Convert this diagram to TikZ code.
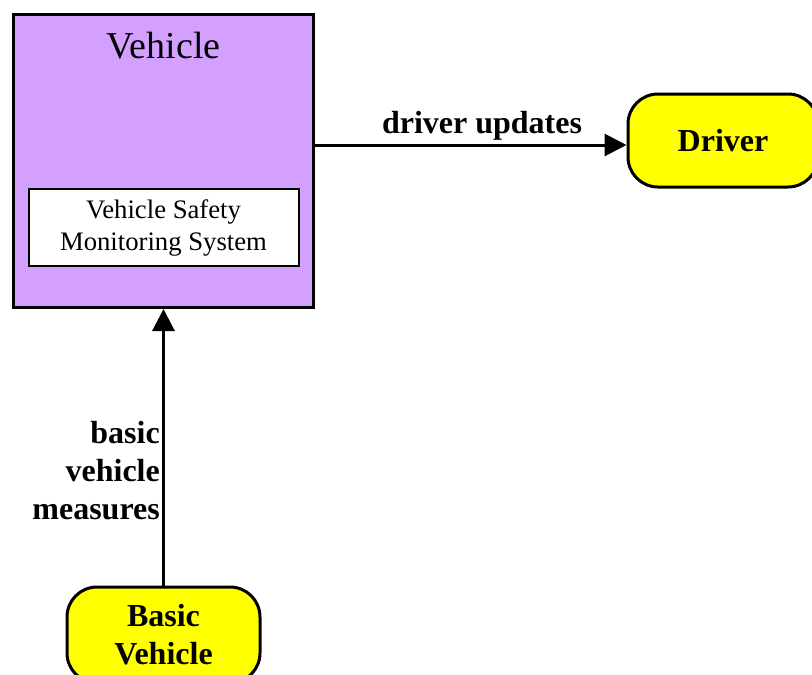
\documentclass[tikz,border=0pt]{standalone}
\usepackage{fontspec}
\setmainfont{Liberation Serif}
\usetikzlibrary{arrows.meta}
\definecolor{vpurple}{RGB}{212,160,255}
\definecolor{vyellow}{RGB}{255,255,0}
\begin{document}
\begin{tikzpicture}[x=1pt,y=-1pt,
  box/.style={draw=black,line width=3pt},
  term/.style={box,fill=vyellow,rounded corners=30pt,font=\fontsize{32}{38}\selectfont\bfseries,align=center,inner sep=0pt},
  flow/.style={line width=3pt,-{Triangle[length=22pt,width=22pt]}},
  lab/.style={font=\fontsize{32}{38}\selectfont\bfseries,inner sep=0pt}]
\useasboundingbox (0,0) rectangle (812,675);
\node[box,fill=vpurple,minimum width=300pt,minimum height=293pt,inner sep=0pt] (veh) at (163.5,161) {};
\node[font=\fontsize{38}{40}\selectfont,anchor=base,inner sep=0pt] (vt) at (163.5,58) {Vehicle};
\node[draw,line width=2pt,fill=white,minimum width=270pt,minimum height=77pt,align=center,font=\fontsize{26.7}{32}\selectfont,inner sep=0pt] (vsms) at (163.5,227.5) {Vehicle Safety\\Monitoring System};
\node[term,minimum width=190pt,minimum height=93pt] (drv) at (723,140.5) {Driver};
\node[term,minimum width=193pt,minimum height=96pt] (bv) at (163.5,635) {Basic\\Vehicle};
\draw[flow] (veh.east |- 0,145) -- (drv.west |- 0,145);
\draw[flow] (bv.north) -- (veh.south);
\node[lab,anchor=base] (l1) at (482,133) {driver updates};
\node[lab,anchor=east,align=right] (l2) at (160,471) {basic\\vehicle\\measures};
\end{tikzpicture}
\end{document}
